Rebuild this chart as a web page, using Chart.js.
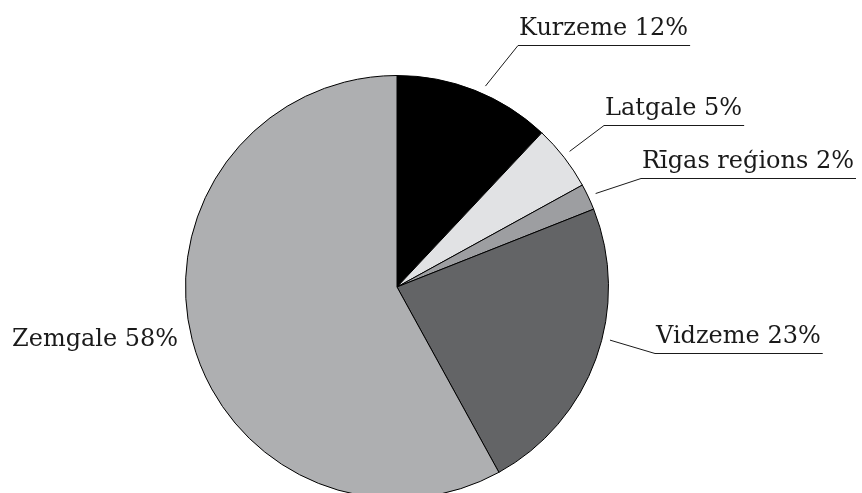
<!DOCTYPE html>
<html><head><meta charset="utf-8">
<script src="https://cdn.jsdelivr.net/npm/chart.js@4"></script>
<style>html,body{margin:0;padding:0;background:#fff;overflow:hidden;width:862px;height:493px}#wrap{width:862px;height:510px;position:relative}</style>
</head><body><div id="wrap"><canvas id="c" width="862" height="510"></canvas></div>
<script>
const regions = ["Kurzeme", "Latgale", "Rīgas reģions", "Vidzeme", "Zemgale"];
const shares = [12, 5, 2, 23, 58];
const colors = ["#000000", "#e1e2e4", "#9d9ea1", "#636466", "#aeafb1"];
// label layout (style): fraction along arc where leader starts, elbow point, or plain text position
const labelLayout = [
  {frac:0.55, ex:518, ey:45},
  {frac:0.48, ex:604, ey:125},
  {frac:0.5, ex:641, ey:178},
  {frac:0.43, ex:655, ey:353},
  {text:true, tx:12, ty:346}
];
const FONT = "24px 'DejaVu Serif'";
const labelPlugin = {
  id:'labels',
  afterDatasetsDraw(chart){
    const ctx = chart.ctx;
    const meta = chart.getDatasetMeta(0);
    ctx.save();
    ctx.font = FONT;
    ctx.fillStyle = '#1a1a1a';
    ctx.strokeStyle = '#1a1a1a';
    ctx.lineWidth = 1;
    ctx.textBaseline = 'alphabetic';
    meta.data.forEach((arc,i)=>{
      const L = labelLayout[i];
      const txt = regions[i] + ' ' + shares[i] + '%';
      if (L.text){ ctx.fillText(txt, L.tx, L.ty); return; }
      const a = arc.startAngle + (arc.endAngle-arc.startAngle)*L.frac;
      const r = arc.outerRadius + 8;
      const sx = arc.x + Math.cos(a)*r, sy = arc.y + Math.sin(a)*r;
      const w = ctx.measureText(txt).width;
      ctx.beginPath();
      ctx.moveTo(sx, sy);
      ctx.lineTo(L.ex, L.ey+0.5);
      ctx.lineTo(Math.min(L.ex + w + 3, 862), L.ey+0.5);
      ctx.stroke();
      ctx.fillText(txt, L.ex + 1, L.ey - 10);
    });
    ctx.restore();
  }
};
new Chart(document.getElementById('c'), {
  type:'pie',
  data:{labels:regions, datasets:[{data:shares, backgroundColor:colors, borderColor:'#000', borderWidth:1}]},
  options:{
    responsive:false, animation:false,
    layout:{padding:{left:185, right:253, top:75, bottom:11}},
    plugins:{legend:{display:false}, tooltip:{enabled:false}}
  },
  plugins:[labelPlugin]
});
</script></body></html>
